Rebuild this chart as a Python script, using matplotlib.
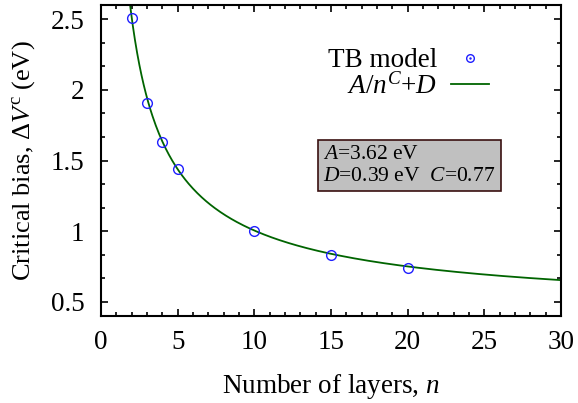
import numpy as np
import matplotlib
matplotlib.use("Agg")
import matplotlib.pyplot as plt
from matplotlib.ticker import MultipleLocator, AutoMinorLocator
from matplotlib.lines import Line2D

# TB model points
layers = [2, 3, 4, 5, 10, 15, 20]
bias = [2.51, 1.91, 1.63, 1.44, 1.00, 0.83, 0.74]

# fit parameters, A/n^C + D
A = 3.62
C = 0.77
D = 0.39

plt.rcParams["font.family"] = ["Liberation Serif", "DejaVu Serif"]
plt.rcParams["mathtext.fontset"] = "custom"
plt.rcParams["mathtext.rm"] = "Liberation Serif"
plt.rcParams["mathtext.it"] = "Liberation Serif:italic"

fig = plt.figure(figsize=(5.78, 4.03), dpi=100)
ax = fig.add_axes([101 / 578, 1 - 316 / 403, 460 / 578, 311 / 403])

n = np.linspace(1.5, 30, 400)
ax.plot(n, A / n**C + D, color="#006400", lw=1.3, zorder=2)
ax.plot(layers, bias, "o", mfc="none", mec="#1f1fff", ms=7, mew=1.0,
        ls="none", zorder=3)

ax.set_xlim(0, 30)
ax.set_ylim(0.4, 2.6)
ax.xaxis.set_major_locator(MultipleLocator(5))
ax.xaxis.set_minor_locator(MultipleLocator(1))
ax.yaxis.set_minor_locator(AutoMinorLocator(3))
ax.set_yticks([0.5, 1, 1.5, 2, 2.5])
ax.set_yticklabels(["0.5", "1", "1.5", "2", "2.5"])
ax.tick_params(which="both", direction="in", top=True, right=True,
               labelsize=19.5, width=1.2)
ax.tick_params(axis="x", which="major", length=5, pad=10)
ax.tick_params(axis="y", which="major", length=5, pad=12)
ax.tick_params(which="minor", length=3)
for s in ax.spines.values():
    s.set_linewidth(1.5)

ax.set_xlabel("Number of layers, $n$", fontsize=19.5, labelpad=12)
ax.set_ylabel(r"Critical bias, $\Delta V^{\mathrm{c}}$ (eV)", fontsize=19,
              labelpad=10)

tb_key = (
    Line2D([], [], marker="o", ls="none", mfc="none", mec="#1f1fff", ms=5.5),
    Line2D([], [], marker=".", ls="none", mfc="#1f1fff", mec="#1f1fff", ms=1.5),
)
fit_key = Line2D([], [], color="#006400", lw=1.3)
leg = ax.legend([tb_key, fit_key], ["TB model", "$A/n^C$+$D$"],
                loc="upper right", bbox_to_anchor=(0.896, 0.94),
                frameon=False, fontsize=19.5, markerfirst=False,
                handlelength=1.4, labelspacing=0.0, handletextpad=0.5)
for t in leg.get_texts():
    t.set_ha("right")

ax.text(0.483, 0.55, "$A$=3.62 eV\n$D$=0.39 eV  $C$=0.77",
        transform=ax.transAxes, fontsize=15.5, va="top", ha="left",
        linespacing=1.2,
        bbox=dict(boxstyle="square,pad=0.25", fc="#c0c0c0", ec="#3a1010",
                  lw=1.2))

fig.savefig("out.png", dpi=100)
